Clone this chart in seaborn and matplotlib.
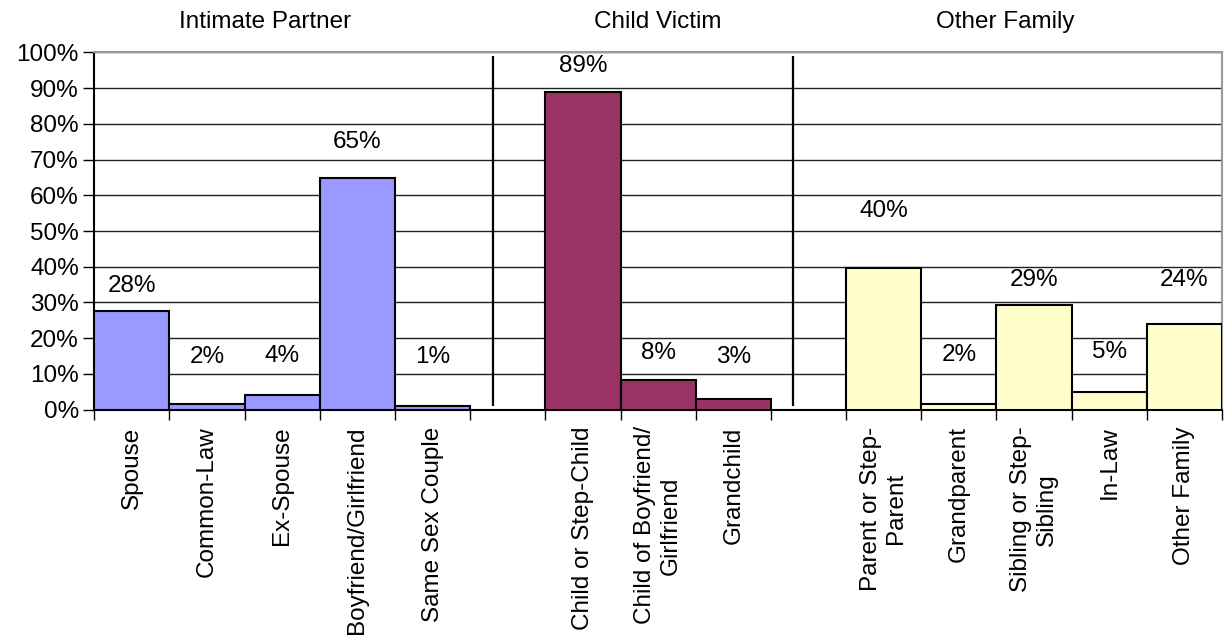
import matplotlib
matplotlib.use("Agg")
import matplotlib.pyplot as plt
import matplotlib.transforms as mtransforms
import seaborn as sns
import pandas as pd

# ---- data ----
intimate_labels = ["Spouse", "Common-Law", "Ex-Spouse", "Boyfriend/Girlfriend", "Same Sex Couple"]
intimate_values = [27.7, 1.5, 4.2, 64.8, 1.1]
child_labels = ["Child or Step-Child", "Child of Boyfriend/\nGirlfriend", "Grandchild"]
child_values = [88.9, 8.4, 3.0]
other_labels = ["Parent or Step-\nParent", "Grandparent", "Sibling or Step-\nSibling", "In-Law", "Other Family"]
other_values = [39.6, 1.7, 29.4, 4.9, 24.0]
group_names = ["Intimate Partner", "Child Victim", "Other Family"]
y_ticks = [0, 10, 20, 30, 40, 50, 60, 70, 80, 90, 100]

# label heights (in % units) as placed in the original chart
label_y = [34.6, 14.7, 14.9, 75.0, 14.7, 96.2, 15.9, 14.7, 55.5, 15.2, 36.4, 16.0, 36.4]

colors = {"Intimate Partner": "#9999FF", "Child Victim": "#993366", "Other Family": "#FFFFCC"}

rows = []
for g, labs, vals in zip(group_names, [intimate_labels, child_labels, other_labels],
                         [intimate_values, child_values, other_values]):
    for l, v in zip(labs, vals):
        rows.append({"label": l, "value": v, "group": g})
df = pd.DataFrame(rows)

gap1, gap2 = "_gap1", "_gap2"
order = intimate_labels + [gap1] + child_labels + [gap2] + other_labels

sns.set_theme(style="white")
plt.rcParams["font.family"] = ["Liberation Sans", "DejaVu Sans"]
plt.rcParams["text.color"] = "black"
plt.rcParams["xtick.color"] = "black"
plt.rcParams["ytick.color"] = "black"
plt.rcParams["xtick.labelcolor"] = "black"
plt.rcParams["ytick.labelcolor"] = "black"
FS = 17.5

fig = plt.figure(figsize=(12.24, 6.37), dpi=100)
ax = fig.add_axes([0.077, 0.357, 0.9984 - 0.077, 0.9176 - 0.357])

sns.barplot(data=df, x="label", y="value", hue="group", order=order,
            palette=colors, dodge=False, width=1.0, edgecolor="black",
            linewidth=1.5, legend=False, ax=ax, errorbar=None, saturation=1,
            zorder=3)

ax.set_xlim(-0.5, len(order) - 0.5)
ax.set_ylim(0, 100)
ax.set_yticks(y_ticks)
ax.set_yticklabels([f"{t}%" for t in y_ticks], fontsize=FS)
ax.yaxis.grid(True, color="#222222", linewidth=1.0, zorder=0)
ax.set_axisbelow(True)

# x tick labels at slot centres, tick marks at slot boundaries
ax.set_xticks(range(len(order)))
ax.set_xticklabels(["" if o.startswith("_gap") else o for o in order],
                   rotation=90, fontsize=FS, multialignment="center")
ax.set_xticks([i - 0.5 for i in range(len(order) + 1)], minor=True)
ax.tick_params(axis="x", which="major", length=0, pad=12)
ax.tick_params(axis="x", which="minor", length=7, width=1, color="black", direction="out", bottom=True)
ax.tick_params(axis="y", length=8, width=1, color="black", direction="out", left=True, pad=3)
ax.set_xlabel("")
ax.set_ylabel("")

for s in ["left", "bottom"]:
    ax.spines[s].set_color("black")
    ax.spines[s].set_linewidth(1.5)
for s in ["top", "right"]:
    ax.spines[s].set_color("#999999")
    ax.spines[s].set_linewidth(1.5)
    ax.spines[s].set_visible(True)

# separators between groups
gi1 = order.index(gap1)
gi2 = order.index(gap2)
ax.vlines([gi1 - 0.2, gi2 - 0.2], 1, 99, color="black", linewidth=1.6, zorder=4)

# value labels
bar_positions = [order.index(l) for l in df["label"]]
for xpos, v, ly in zip(bar_positions, df["value"], label_y):
    ax.text(xpos, ly, f"{v:.0f}%", ha="center", va="center", fontsize=FS, zorder=5)

# group titles
trans = mtransforms.blended_transform_factory(ax.transData, fig.transFigure)
title_x = [1.77, 6.99, 11.62]
for tx, name in zip(title_x, group_names):
    ax.text(tx, 0.965, name, transform=trans, ha="center", va="center", fontsize=FS)

fig.savefig("out.png", dpi=100)
